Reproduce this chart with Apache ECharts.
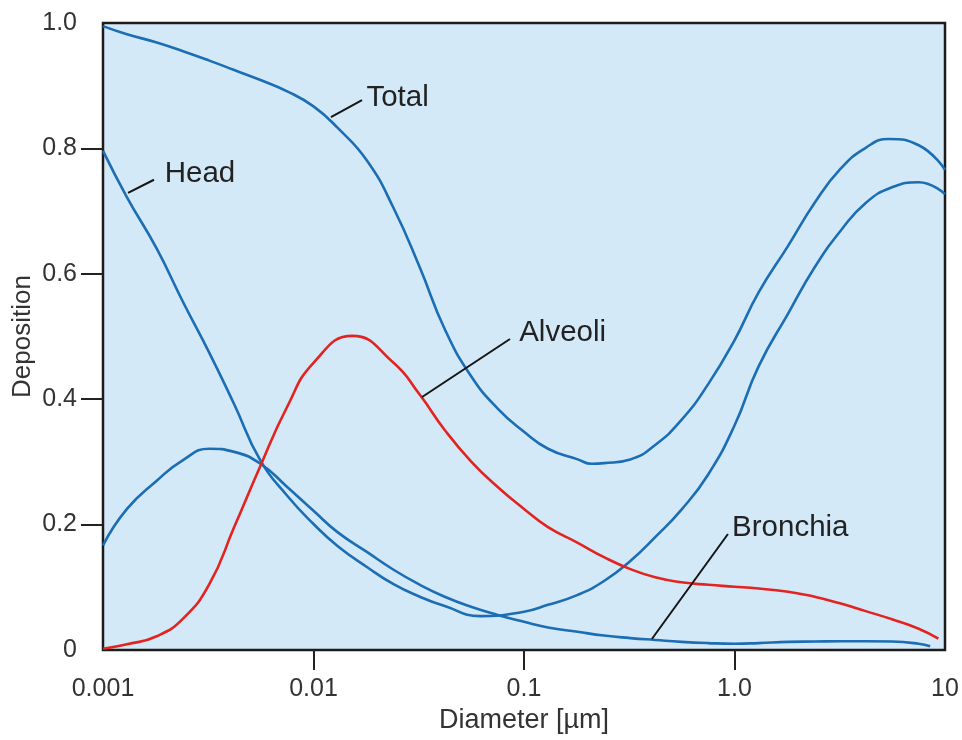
<!DOCTYPE html>
<html><head><meta charset="utf-8">
<script src="https://cdn.jsdelivr.net/npm/echarts@6/dist/echarts.min.js"></script>
<style>html,body{margin:0;padding:0;background:#fff}#c{width:962px;height:740px}</style>
</head><body><div id="c"></div>
<script>
// Particle diameters in µm (log axis) and deposition fractions
const totalDiam = [0.001, 0.0013, 0.0018, 0.0024, 0.0032, 0.0042, 0.0056, 0.0075, 0.01, 0.013, 0.018, 0.024, 0.032, 0.042, 0.056, 0.075, 0.1, 0.13, 0.18, 0.21, 0.24, 0.32, 0.42, 0.56, 0.75, 1, 1.3, 1.8, 2.4, 3.2, 4.2, 5.4, 7.5, 10];
const total     = [0.995, 0.982, 0.969, 0.955, 0.940, 0.925, 0.909, 0.891, 0.867, 0.833, 0.780, 0.705, 0.610, 0.512, 0.437, 0.385, 0.348, 0.321, 0.304, 0.297, 0.298, 0.304, 0.327, 0.367, 0.424, 0.494, 0.570, 0.645, 0.713, 0.768, 0.801, 0.815, 0.805, 0.766];

const headDiam = [0.001, 0.0013, 0.0018, 0.0024, 0.0032, 0.0042, 0.0056, 0.0075, 0.01, 0.013, 0.018, 0.024, 0.032, 0.042, 0.062, 0.1, 0.13, 0.18, 0.24, 0.32, 0.42, 0.56, 0.75, 1, 1.3, 1.8, 2.4, 3.2, 4.2, 5.6, 7.5, 10];
const head     = [0.796, 0.722, 0.640, 0.555, 0.474, 0.392, 0.302, 0.246, 0.201, 0.166, 0.132, 0.105, 0.085, 0.070, 0.054, 0.061, 0.072, 0.088, 0.110, 0.142, 0.180, 0.224, 0.280, 0.358, 0.452, 0.537, 0.610, 0.669, 0.713, 0.738, 0.746, 0.727];

const bronchiaDiam = [0.001, 0.0013, 0.0018, 0.0024, 0.0032, 0.0042, 0.0056, 0.0075, 0.01, 0.013, 0.018, 0.024, 0.032, 0.042, 0.056, 0.075, 0.1, 0.13, 0.18, 0.24, 0.32, 0.42, 0.56, 0.75, 1, 1.3, 1.8, 2.4, 3.2, 4.2, 5.6, 7.5, 8.5];
const bronchia     = [0.167, 0.225, 0.270, 0.303, 0.321, 0.316, 0.297, 0.260, 0.222, 0.188, 0.156, 0.128, 0.104, 0.085, 0.069, 0.056, 0.045, 0.036, 0.029, 0.023, 0.019, 0.016, 0.013, 0.011, 0.010, 0.011, 0.013, 0.0135, 0.014, 0.014, 0.0135, 0.010, 0.006];

const alveoliDiam = [0.001, 0.0013, 0.0018, 0.0024, 0.0032, 0.0042, 0.0056, 0.0075, 0.01, 0.0153, 0.024, 0.032, 0.042, 0.056, 0.075, 0.1, 0.13, 0.18, 0.24, 0.32, 0.42, 0.56, 0.75, 1, 1.3, 1.8, 2.4, 3.2, 4.2, 5.6, 7.5, 9.3];
const alveoli     = [0.002, 0.009, 0.022, 0.050, 0.105, 0.196, 0.294, 0.388, 0.458, 0.501, 0.458, 0.407, 0.351, 0.301, 0.260, 0.225, 0.196, 0.171, 0.148, 0.129, 0.116, 0.108, 0.104, 0.101, 0.098, 0.093, 0.085, 0.074, 0.062, 0.049, 0.034, 0.018];

const seriesNames = ['Total', 'Head', 'Bronchia', 'Alveoli'];
const xTickLabels = ['0.001', '0.01', '0.1', '1.0', '10'];
const yTickLabels = ['0', '0.2', '0.4', '0.6', '0.8', '1.0'];
const xTickMarks = [0.01, 0.1, 1];
const yTickMarks = [0.2, 0.4, 0.6, 0.8];
const xAxisName = 'Diameter [µm]';
const yAxisName = 'Deposition';

// Leader lines for the curve labels, in data coordinates [diameter, deposition]
const pointers = {
  Total:    [[0.0121, 0.850], [0.0170, 0.877]],
  Head:     [[0.001315, 0.729], [0.001747, 0.750]],
  Alveoli:  [[0.0328, 0.4035], [0.0858, 0.496]],
  Bronchia: [[0.405, 0.0175], [0.931, 0.185]]
};

const FONT = "'Liberation Sans', Arial, Helvetica, sans-serif";
const BLUE = '#1b6db4';
const RED = '#e3231f';

function mkSeries(name, diam, values, color, labelDist) {
  const p = pointers[name];
  return {
    name: name,
    type: 'line',
    data: diam.map((d, i) => [d, values[i]]),
    smooth: 0.5,
    showSymbol: false,
    symbol: 'none',
    lineStyle: { color: color, width: 2.6 },
    itemStyle: { color: color },
    emphasis: { disabled: true },
    markLine: {
      silent: true,
      animation: false,
      symbol: ['none', 'none'],
      lineStyle: { color: '#151515', width: 2, type: 'solid' },
      emphasis: { disabled: true },
      label: {
        show: true, position: 'end', formatter: name, fontSize: 29.5, color: '#222',
        fontFamily: FONT, align: 'left', verticalAlign: 'middle', distance: labelDist
      },
      data: [[{ coord: p[0] }, { coord: p[1] }]]
    }
  };
}

const chart = echarts.init(document.getElementById('c'), null, { renderer: 'canvas' });
chart.setOption({
  animation: false,
  backgroundColor: '#ffffff',
  textStyle: { fontFamily: FONT },
  grid: {
    left: 103, right: 17, top: 23, bottom: 90,
    outerBoundsMode: 'none', containLabel: false,
    show: true, backgroundColor: '#d4e9f8', borderColor: '#1c1c1c', borderWidth: 2.5
  },
  xAxis: {
    type: 'log', logBase: 10, min: 0.001, max: 10,
    axisLine: { show: false },
    splitLine: { show: false },
    axisTick: { show: true, inside: false, length: 20, customValues: xTickMarks, lineStyle: { color: '#222', width: 2 } },
    axisLabel: {
      fontSize: 25, color: '#333', margin: 27, fontFamily: FONT,
      formatter: v => xTickLabels[Math.round(Math.log10(v)) + 3]
    },
    name: xAxisName, nameLocation: 'middle', nameGap: 57, nameMoveOverlap: false,
    nameTextStyle: { fontSize: 27, color: '#333', fontFamily: FONT }
  },
  yAxis: {
    type: 'value', min: 0, max: 1, interval: 0.2,
    axisLine: { show: false },
    splitLine: { show: false },
    axisTick: { show: true, inside: false, length: 22, customValues: yTickMarks, lineStyle: { color: '#222', width: 2 } },
    axisLabel: {
      fontSize: 25, color: '#333', margin: 26, fontFamily: FONT,
      formatter: v => yTickLabels[Math.round(v / 0.2)]
    },
    name: yAxisName, nameLocation: 'middle', nameGap: 67, nameRotate: 90, nameMoveOverlap: false,
    nameTextStyle: { fontSize: 26, color: '#333', fontFamily: FONT }
  },
  series: [
    mkSeries(seriesNames[0], totalDiam, total, BLUE, 5),
    mkSeries(seriesNames[1], headDiam, head, BLUE, 12),
    mkSeries(seriesNames[2], bronchiaDiam, bronchia, BLUE, 7),
    mkSeries(seriesNames[3], alveoliDiam, alveoli, RED, 11)
  ]
});
</script>
</body></html>
